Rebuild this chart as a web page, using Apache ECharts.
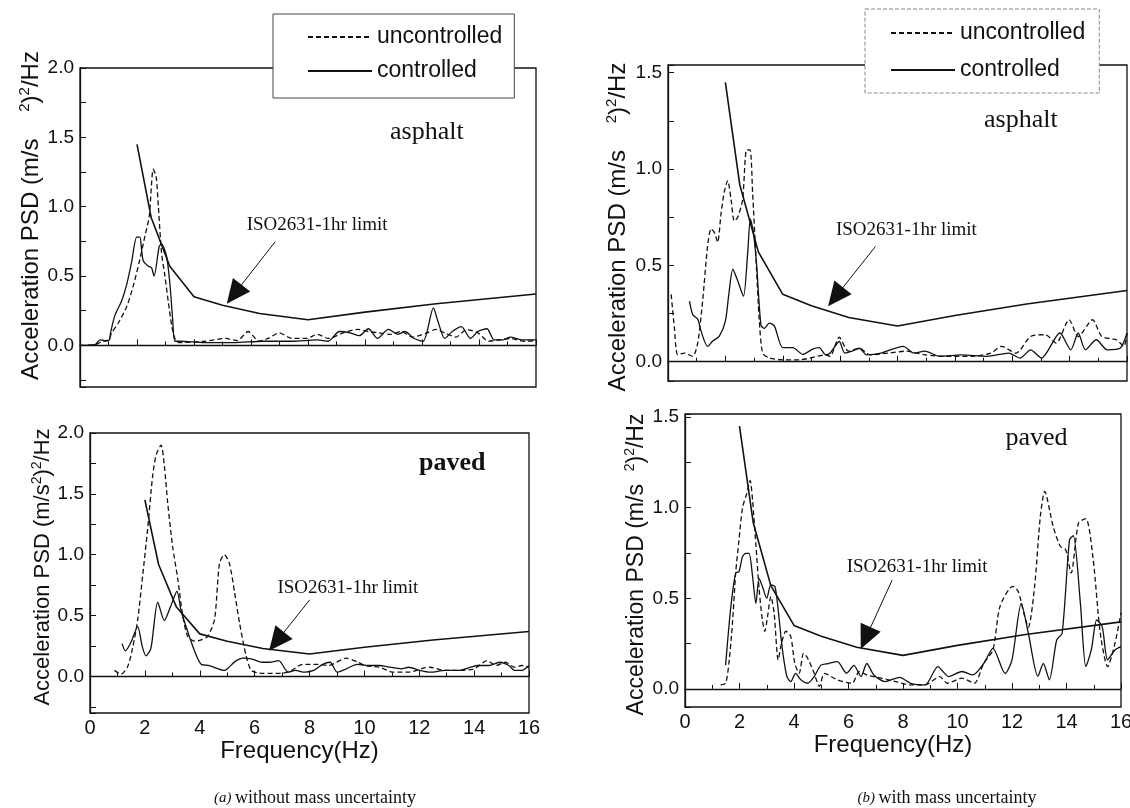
<!DOCTYPE html>
<html>
<head>
<meta charset="utf-8">
<title>Acceleration PSD with and without mass uncertainty</title>
<script src="https://cdn.jsdelivr.net/npm/echarts@6/dist/echarts.min.js"></script>
<style>
  html, body {margin: 0; padding: 0; background: #fff;}
  #chart {width: 1130px; height: 808px;}
</style>
</head>
<body>
<div id="chart"></div>
<script>
const sans = 'Liberation Sans, Arial, sans-serif'
const serif = 'Liberation Serif, Times New Roman, serif'
const ink = '#111'

// ISO2631 1hr limit (Hz, (m/s^2)^2/Hz)
const isoFreq = [2, 2.5, 3.15, 4, 5, 6.3, 8, 10, 12.5, 16]
const isoLimit = [1.45, 0.92, 0.57, 0.35, 0.29, 0.23, 0.185, 0.24, 0.3, 0.37]

// (a) without mass uncertainty - asphalt, [freq, psd]
const aAsphaltUnc = [[0, 0], [0.53, 0.005], [0.8, 0.03], [1.0, 0.035], [1.11, 0.09], [1.34, 0.16], [1.64, 0.28], [1.87, 0.43], [2.1, 0.62], [2.28, 0.79], [2.43, 0.93], [2.57, 1.27], [2.67, 1.22], [2.75, 1.0], [2.86, 0.67], [2.98, 0.5], [3.1, 0.31], [3.22, 0.14], [3.33, 0.05], [3.47, 0.02], [4.37, 0.03], [5.13, 0.05], [5.52, 0.035], [5.9, 0.1], [6.28, 0.03], [6.6, 0.05], [6.99, 0.09], [7.44, 0.05], [7.95, 0.05], [8.33, 0.08], [8.71, 0.05], [9.23, 0.09], [9.74, 0.115], [10.12, 0.1], [10.5, 0.09], [10.88, 0.08], [11.27, 0.1], [11.66, 0.06], [12.17, 0.09], [12.49, 0.115], [12.8, 0.09], [13.19, 0.06], [13.57, 0.115], [13.96, 0.09], [14.34, 0.03], [14.72, 0.04], [15.1, 0.05], [15.6, 0.03], [16, 0.035]]
const aAsphaltCtrl = [[0, 0], [0.53, 0.005], [0.7, 0.04], [0.87, 0.035], [1.03, 0.04], [1.07, 0.09], [1.23, 0.22], [1.46, 0.32], [1.64, 0.44], [1.81, 0.6], [1.99, 0.78], [2.1, 0.78], [2.16, 0.69], [2.22, 0.61], [2.4, 0.57], [2.51, 0.56], [2.6, 0.5], [2.78, 0.715], [2.86, 0.73], [3.04, 0.64], [3.16, 0.43], [3.25, 0.19], [3.33, 0.03], [3.51, 0.03], [4.37, 0.02], [5.39, 0.02], [6.41, 0.03], [7.44, 0.03], [8.33, 0.04], [8.71, 0.03], [9.1, 0.1], [9.48, 0.09], [9.8, 0.07], [10.12, 0.12], [10.44, 0.05], [10.82, 0.115], [11.15, 0.08], [11.4, 0.1], [11.72, 0.05], [12.04, 0.03], [12.4, 0.27], [12.55, 0.18], [12.8, 0.05], [13.06, 0.1], [13.38, 0.135], [13.7, 0.05], [13.96, 0.1], [14.28, 0.12], [14.53, 0.04], [14.85, 0.04], [15.1, 0.06], [15.49, 0.04], [16, 0.04]]

// (a) paved
const aPavedUnc = [[0.89, 0.05], [1.13, 0.02], [1.37, 0.08], [1.55, 0.23], [1.74, 0.47], [1.92, 0.83], [2.1, 1.21], [2.28, 1.64], [2.41, 1.82], [2.59, 1.9], [2.71, 1.73], [2.83, 1.43], [3.01, 1.07], [3.2, 0.8], [3.38, 0.5], [3.56, 0.33], [3.81, 0.29], [4.05, 0.3], [4.29, 0.33], [4.54, 0.47], [4.72, 0.93], [4.9, 1.0], [5.08, 0.93], [5.27, 0.69], [5.45, 0.44], [5.69, 0.17], [5.88, 0.05], [6.28, 0.025], [6.95, 0.025], [7.35, 0.05], [7.75, 0.1], [8.28, 0.1], [8.68, 0.09], [9.34, 0.15], [9.74, 0.12], [10.01, 0.09], [10.54, 0.076], [11.07, 0.035], [11.61, 0.035], [12.14, 0.068], [12.4, 0.076], [12.94, 0.05], [13.47, 0.05], [14.0, 0.063], [14.47, 0.13], [14.8, 0.09], [15.14, 0.117], [15.47, 0.076], [15.74, 0.09], [16, 0.076]]
const aPavedCtrl = [[1.17, 0.27], [1.29, 0.21], [1.49, 0.28], [1.74, 0.41], [1.9, 0.25], [2.04, 0.17], [2.22, 0.23], [2.47, 0.61], [2.71, 0.46], [2.93, 0.57], [3.17, 0.7], [3.32, 0.54], [3.56, 0.37], [3.81, 0.21], [4.05, 0.1], [4.35, 0.09], [4.9, 0.05], [5.27, 0.12], [5.57, 0.15], [5.88, 0.144], [6.28, 0.117], [6.55, 0.117], [6.88, 0.13], [7.22, 0.035], [7.49, 0.05], [7.82, 0.035], [8.15, 0.05], [8.48, 0.1], [8.75, 0.117], [9.01, 0.035], [9.34, 0.063], [9.74, 0.1], [10.14, 0.09], [10.54, 0.09], [10.94, 0.076], [11.34, 0.063], [11.61, 0.076], [12.01, 0.05], [12.4, 0.035], [12.94, 0.05], [13.47, 0.05], [13.87, 0.076], [14.14, 0.09], [14.54, 0.09], [14.93, 0.117], [15.27, 0.09], [15.47, 0.05], [15.74, 0.05], [16, 0.09]]

// (b) with mass uncertainty - asphalt
const bAsphaltUnc = [[0.11, 0.35], [0.22, 0.18], [0.34, 0.036], [0.57, 0.045], [0.86, 0.028], [1.04, 0.1], [1.21, 0.32], [1.38, 0.6], [1.5, 0.69], [1.62, 0.67], [1.73, 0.62], [1.85, 0.77], [1.96, 0.88], [2.08, 0.94], [2.2, 0.84], [2.31, 0.73], [2.43, 0.75], [2.6, 0.84], [2.74, 1.1], [2.86, 1.1], [2.95, 0.875], [3.07, 0.53], [3.18, 0.22], [3.3, 0.045], [3.53, 0.02], [4.0, 0.01], [4.58, 0.01], [5.5, 0.035], [5.65, 0.028], [5.97, 0.127], [6.29, 0.055], [6.67, 0.07], [7.05, 0.036], [7.69, 0.045], [8.32, 0.055], [8.96, 0.036], [9.72, 0.028], [10.61, 0.028], [11.25, 0.045], [11.63, 0.08], [12.13, 0.045], [12.64, 0.131], [13.15, 0.14], [13.53, 0.097], [13.98, 0.218], [14.3, 0.131], [14.8, 0.218], [15.12, 0.131], [15.63, 0.114], [15.89, 0.08], [16, 0.149]]
const bAsphaltCtrl = [[0.75, 0.314], [0.86, 0.245], [1.04, 0.22], [1.15, 0.16], [1.38, 0.08], [1.56, 0.107], [1.79, 0.133], [2.0, 0.211], [2.12, 0.35], [2.26, 0.48], [2.43, 0.42], [2.63, 0.34], [2.78, 0.57], [2.87, 0.74], [2.98, 0.67], [3.09, 0.5], [3.24, 0.19], [3.36, 0.173], [3.53, 0.2], [3.71, 0.185], [4.0, 0.073], [4.35, 0.073], [4.7, 0.038], [5.04, 0.065], [5.27, 0.073], [5.5, 0.036], [5.65, 0.045], [5.97, 0.105], [6.16, 0.045], [6.42, 0.055], [6.67, 0.07], [6.92, 0.036], [7.43, 0.045], [8.2, 0.08], [8.58, 0.045], [8.96, 0.055], [9.47, 0.028], [10.23, 0.036], [11.12, 0.028], [11.88, 0.045], [12.27, 0.019], [12.64, 0.062], [13.02, 0.019], [13.66, 0.149], [14.04, 0.062], [14.3, 0.149], [14.55, 0.062], [14.93, 0.114], [15.31, 0.062], [15.76, 0.07], [16, 0.149]]

// (b) paved
const bPavedUnc = [[1.31, 0.022], [1.49, 0.031], [1.61, 0.14], [1.74, 0.36], [1.86, 0.64], [1.98, 0.82], [2.11, 1.0], [2.27, 1.08], [2.39, 1.15], [2.48, 1.04], [2.6, 0.8], [2.72, 0.55], [2.84, 0.38], [2.93, 0.318], [3.03, 0.4], [3.15, 0.51], [3.27, 0.42], [3.42, 0.16], [3.54, 0.25], [3.7, 0.318], [3.88, 0.29], [4.03, 0.14], [4.19, 0.086], [4.35, 0.196], [4.5, 0.17], [4.74, 0.086], [4.93, 0.013], [5.12, 0.086], [5.59, 0.05], [6.13, 0.031], [6.4, 0.096], [6.67, 0.077], [7.2, 0.059], [7.74, 0.04], [8.28, 0.022], [8.81, 0.022], [9.35, 0.068], [9.62, 0.031], [10.16, 0.059], [10.62, 0.031], [10.96, 0.14], [11.3, 0.215], [11.56, 0.455], [12.03, 0.566], [12.23, 0.538], [12.43, 0.42], [12.6, 0.34], [12.83, 0.566], [13.04, 0.952], [13.2, 1.09], [13.51, 0.897], [13.77, 0.787], [13.97, 0.768], [14.17, 0.64], [14.44, 0.915], [14.71, 0.94], [14.98, 0.713], [15.24, 0.307], [15.51, 0.123], [15.78, 0.252], [16, 0.42]]
const bPavedCtrl = [[1.49, 0.131], [1.68, 0.45], [1.86, 0.64], [1.98, 0.647], [2.11, 0.73], [2.23, 0.748], [2.35, 0.748], [2.48, 0.62], [2.6, 0.472], [2.72, 0.61], [2.84, 0.565], [3.0, 0.5], [3.15, 0.574], [3.3, 0.565], [3.42, 0.436], [3.52, 0.29], [3.61, 0.178], [3.74, 0.068], [3.88, 0.04], [4.06, 0.086], [4.25, 0.05], [4.5, 0.031], [4.74, 0.068], [4.99, 0.131], [5.26, 0.14], [5.59, 0.15], [5.93, 0.086], [6.2, 0.13], [6.46, 0.068], [6.67, 0.14], [6.93, 0.077], [7.34, 0.04], [7.88, 0.064], [8.28, 0.031], [8.81, 0.022], [9.28, 0.123], [9.68, 0.068], [10.16, 0.096], [10.56, 0.077], [10.96, 0.14], [11.3, 0.224], [11.75, 0.085], [12.0, 0.16], [12.34, 0.472], [12.6, 0.307], [12.95, 0.07], [13.15, 0.14], [13.37, 0.05], [13.64, 0.27], [13.84, 0.307], [14.11, 0.823], [14.25, 0.845], [14.51, 0.472], [14.71, 0.123], [14.91, 0.215], [15.11, 0.38], [15.31, 0.344], [15.51, 0.16], [15.78, 0.215], [16, 0.233]]

const isoLine = isoFreq.map((f, i) => [f, isoLimit[i]])

// one entry per panel: grid box (px), y range, texts, arrow (data coords)
const panels = [
  {
    rect: {left: 80, top: 68, width: 456, height: 319}, yMin: -0.3, yMax: 2.0,
    unc: aAsphaltUnc, ctrl: aAsphaltCtrl, xLabels: false, xNameGap: 23,
    yName: '{t|Acceleration PSD (m/s}{g|    }{s|2}{t|)}{s|2}{t|/Hz}', nameSize: 24, nameGap: 27, namePad: [0, 0, 0, 24],
    road: 'asphalt', roadAt: [12.17, 1.54], roadBold: false,
    isoAt: [8.32, 0.868], arrowFrom: [6.85, 0.748], arrowTo: [5.41, 0.369],
  },
  {
    rect: {left: 668, top: 65, width: 459, height: 316}, yMin: -0.1, yMax: 1.54,
    unc: bAsphaltUnc, ctrl: bAsphaltCtrl, xLabels: false, xNameGap: 23,
    yName: '{t|Acceleration PSD (m/s}{g|    }{s|2}{t|)}{s|2}{t|/Hz}', nameSize: 24, nameGap: 36, namePad: [0, 8, 0, 0],
    road: 'asphalt', roadAt: [12.3, 1.256], roadBold: false,
    isoAt: [8.31, 0.685], arrowFrom: [7.23, 0.598], arrowTo: [5.84, 0.337],
  },
  {
    rect: {left: 90, top: 433, width: 439, height: 280}, yMin: -0.3, yMax: 2.0,
    unc: aPavedUnc, ctrl: aPavedCtrl, xLabels: true, xNameGap: 23,
    yName: '{t|Acceleration PSD (m/s}{s|2}{t|)}{s|2}{t|/Hz}', nameSize: 22, nameGap: 30, namePad: [0, 0, 0, 12],
    road: 'paved', roadAt: [13.2, 1.754], roadBold: true,
    isoAt: [9.4, 0.727], arrowFrom: [8.01, 0.63], arrowTo: [6.8, 0.288],
  },
  {
    rect: {left: 685, top: 414, width: 436, height: 293}, yMin: -0.1, yMax: 1.517,
    unc: bPavedUnc, ctrl: bPavedCtrl, xLabels: true, xNameGap: 21,
    yName: '{t|Acceleration PSD (m/s}{g|  }{s|2}{t|)}{s|2}{t|/Hz}', nameSize: 23, nameGap: 35, namePad: [0, 8, 0, 0],
    road: 'paved', roadAt: [12.9, 1.384], roadBold: false,
    isoAt: [8.52, 0.673], arrowFrom: [7.6, 0.6], arrowTo: [6.63, 0.28],
  },
]

const yTickLabel = v => {
  if (v < -1e-6 || Math.abs(v * 2 - Math.round(v * 2)) > 1e-6) return ''
  return v.toFixed(1)
}

const grids = panels.map(p => ({
  ...p.rect,
  show: true,
  borderColor: ink,
  borderWidth: 1.3,
  backgroundColor: 'transparent',
  outerBoundsMode: 'none',
}))

const xAxes = panels.map((p, i) => ({
  type: 'value',
  gridIndex: i,
  min: 0,
  max: 16,
  interval: 2,
  axisLine: {lineStyle: {color: ink, width: 1.3}},
  axisTick: {inside: true, length: 6, lineStyle: {color: ink}},
  minorTick: {show: true, splitNumber: 2, length: 4, lineStyle: {color: ink}},
  splitLine: {show: false},
  axisLabel: {show: p.xLabels, color: ink, fontFamily: sans, fontSize: 20, margin: 5},
  name: p.xLabels ? 'Frequency(Hz)' : '',
  nameLocation: 'middle',
  nameGap: p.xNameGap,
  nameTextStyle: {color: ink, fontFamily: sans, fontSize: 24, padding: [0, 20, 0, 0]},
}))

const yAxes = panels.map((p, i) => ({
  type: 'value',
  gridIndex: i,
  min: p.yMin,
  max: p.yMax,
  minInterval: 0.5,
  maxInterval: 0.5,
  axisLine: {lineStyle: {color: ink, width: 1.3}},
  axisTick: {inside: true, length: 6, lineStyle: {color: ink}},
  minorTick: {show: true, splitNumber: 2, length: 6, lineStyle: {color: ink}},
  splitLine: {show: false},
  axisLabel: {color: ink, fontFamily: sans, fontSize: 19, margin: 6, formatter: yTickLabel},
  name: p.yName,
  nameLocation: 'middle',
  nameRotate: 90,
  nameGap: p.nameGap,
  nameTextStyle: {
    color: ink,
    fontFamily: sans,
    padding: p.namePad,
    rich: {
      t: {fontSize: p.nameSize, fontFamily: sans, color: ink, lineHeight: p.nameSize + 4},
      g: {fontSize: p.nameSize, fontFamily: sans},
      s: {fontSize: Math.round(p.nameSize * 0.62), fontFamily: sans, color: ink, verticalAlign: 'top', lineHeight: 14},
    },
  },
}))

const series = []
panels.forEach((p, i) => {
  series.push({
    name: 'uncontrolled',
    type: 'line',
    xAxisIndex: i,
    yAxisIndex: i,
    data: p.unc,
    symbol: 'none',
    smooth: 0.25,
    lineStyle: {color: ink, width: 1.3, type: [5, 3]},
    itemStyle: {color: ink},
    silent: true,
  })
  series.push({
    name: 'controlled',
    type: 'line',
    xAxisIndex: i,
    yAxisIndex: i,
    data: p.ctrl,
    symbol: 'none',
    smooth: 0.25,
    lineStyle: {color: ink, width: 1.3},
    itemStyle: {color: ink},
    silent: true,
  })
  series.push({
    name: 'ISO2631-1hr limit',
    type: 'line',
    xAxisIndex: i,
    yAxisIndex: i,
    data: isoLine,
    symbol: 'none',
    lineStyle: {color: ink, width: 1.6},
    silent: true,
    markPoint: {
      symbol: 'circle',
      symbolSize: 0,
      silent: true,
      itemStyle: {color: 'transparent'},
      data: [{
        name: p.road,
        coord: p.roadAt,
        label: {
          show: true, position: 'inside', formatter: '{b}', color: ink,
          fontFamily: serif, fontSize: 26, fontWeight: p.roadBold ? 'bold' : 'normal',
        },
      }, {
        name: 'ISO2631-1hr limit',
        coord: p.isoAt,
        label: {show: true, position: 'inside', formatter: '{b}', color: ink, fontFamily: serif, fontSize: 19},
      }],
    },
    markLine: {
      silent: true,
      symbol: ['none', 'triangle'],
      symbolSize: [22, 24],
      label: {show: false},
      lineStyle: {color: ink, width: 1, type: 'solid'},
      itemStyle: {color: ink},
      data: [[{coord: p.arrowFrom}, {coord: p.arrowTo}]],
    },
  })
})

const legendBase = {
  orient: 'vertical',
  data: ['uncontrolled', 'controlled'],
  selectedMode: false,
  backgroundColor: '#fff',
  borderWidth: 1,
  itemWidth: 64,
  itemHeight: 14,
  itemGap: 10,
  itemStyle: {color: 'transparent', borderWidth: 0},
  textStyle: {color: ink, fontFamily: sans, fontSize: 23, lineHeight: 24},
  z: 10,
}

const option = {
  backgroundColor: '#fff',
  animation: false,
  grid: grids,
  xAxis: xAxes,
  yAxis: yAxes,
  legend: [
    {...legendBase, left: 273, top: 14, borderColor: '#444', padding: [11, 12, 15, 34]},
    {...legendBase, left: 865, top: 9, borderColor: '#888', borderType: 'dashed', itemGap: 13, padding: [12, 14, 11, 25]},
  ],
  graphic: [{
    type: 'text',
    x: 315,
    y: 798,
    style: {
      text: '{i|(a)} {r|without mass uncertainty}',
      align: 'center',
      verticalAlign: 'middle',
      rich: {
        i: {fontFamily: serif, fontStyle: 'italic', fontSize: 15, fill: ink},
        r: {fontFamily: serif, fontSize: 18, fill: ink},
      },
    },
  }, {
    type: 'text',
    x: 947,
    y: 798,
    style: {
      text: '{i|(b)} {r|with mass uncertainty}',
      align: 'center',
      verticalAlign: 'middle',
      rich: {
        i: {fontFamily: serif, fontStyle: 'italic', fontSize: 15, fill: ink},
        r: {fontFamily: serif, fontSize: 18, fill: ink},
      },
    },
  }],
  series,
}

const chart = echarts.init(document.getElementById('chart'))
chart.setOption(option)
</script>
</body>
</html>
